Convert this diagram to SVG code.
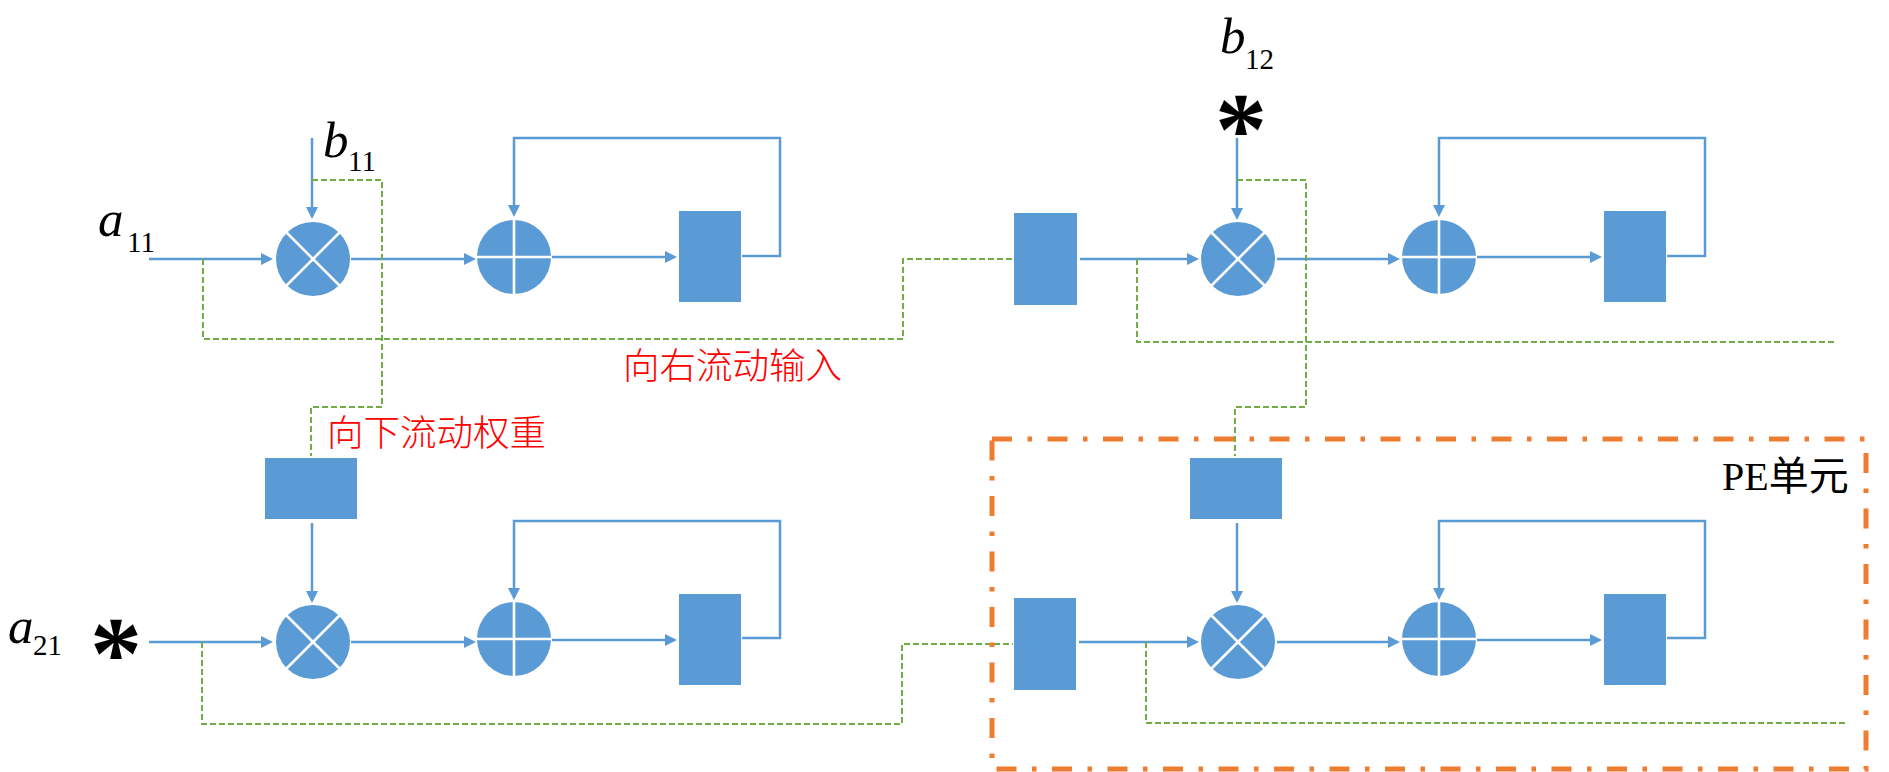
<svg xmlns="http://www.w3.org/2000/svg" width="1889" height="772" viewBox="0 0 1889 772">
<style>
.bg{fill:#ffffff}
.reg{fill:#5B9BD5}
.op{fill:#5B9BD5}
.wl{stroke:#ffffff;stroke-width:2.6;fill:none}
.bl{stroke:#5B9BD5;stroke-width:2.5;fill:none}
.gr{stroke:#70AD47;stroke-width:2;fill:none;stroke-dasharray:6 3}
.pe{stroke:#ED7D31;stroke-width:5;fill:none;stroke-dasharray:20 15.5 4.5 15.5}
.var{font-family:"Liberation Serif",serif;font-style:italic;font-size:51px;fill:#000}
.sub{font-family:"Liberation Serif",serif;font-style:normal;font-size:29px;fill:#000}
.ast{font-family:"Liberation Serif",serif;font-weight:bold;font-size:104px;fill:#000}
.lbl{font-family:"Noto Sans CJK SC",sans-serif;font-weight:300;font-size:36.5px;fill:#FF0000}
.pet{font-family:"Liberation Serif","Noto Sans CJK SC",serif;font-size:40px;fill:#000}
</style>
<defs>
<marker id="ah" markerUnits="userSpaceOnUse" markerWidth="12" markerHeight="12" refX="2" refY="6" orient="auto">
<path d="M0,0 L12,6 L0,12 z" fill="#5B9BD5"/>
</marker>
<g id="mul"><circle r="37" class="op"/><path class="wl" d="M-27,-27 L27,27 M27,-27 L-27,27"/></g>
<g id="add"><circle r="37" class="op"/><path class="wl" d="M-38,0 L38,0 M0,-38 L0,38"/></g>
</defs>
<rect class="bg" x="0" y="0" width="1889" height="772"/>

<g id="connectors">
<!-- blue data connectors -->
<path class="bl" marker-end="url(#ah)" d="M149,259 L263,259"/>
<path class="bl" marker-end="url(#ah)" d="M312,138 L312,209"/>
<path class="bl" marker-end="url(#ah)" d="M351,259 L466,259"/>
<path class="bl" marker-end="url(#ah)" d="M552,257 L667,257"/>
<path class="bl" marker-end="url(#ah)" d="M742,256 L780,256 L780,138 L514,138 L514,207"/>
<path class="bl" marker-end="url(#ah)" d="M1080,259 L1189,259"/>
<path class="bl" marker-end="url(#ah)" d="M1237,138 L1237,210"/>
<path class="bl" marker-end="url(#ah)" d="M1277,259 L1390,259"/>
<path class="bl" marker-end="url(#ah)" d="M1477,257 L1592,257"/>
<path class="bl" marker-end="url(#ah)" d="M1667,256 L1705,256 L1705,138 L1439,138 L1439,207"/>
<path class="bl" marker-end="url(#ah)" d="M149,642 L263,642"/>
<path class="bl" marker-end="url(#ah)" d="M312,523 L312,593"/>
<path class="bl" marker-end="url(#ah)" d="M351,642 L466,642"/>
<path class="bl" marker-end="url(#ah)" d="M552,640 L667,640"/>
<path class="bl" marker-end="url(#ah)" d="M742,638 L780,638 L780,521 L514,521 L514,590"/>
<path class="bl" marker-end="url(#ah)" d="M1079,642 L1189,642"/>
<path class="bl" marker-end="url(#ah)" d="M1237,523 L1237,593"/>
<path class="bl" marker-end="url(#ah)" d="M1277,642 L1390,642"/>
<path class="bl" marker-end="url(#ah)" d="M1477,640 L1592,640"/>
<path class="bl" marker-end="url(#ah)" d="M1667,638 L1705,638 L1705,521 L1439,521 L1439,590"/>
<!-- green dashed flows -->
<path class="gr" d="M203,259 L203,339 L903,339 L903,259 L1013,259"/>
<path class="gr" d="M312,180 L382,180 L382,407 L311,407 L311,456"/>
<path class="gr" d="M1137,259 L1137,342 L1835,342"/>
<path class="gr" d="M1237,180 L1306,180 L1306,407 L1235,407 L1235,456"/>
<path class="gr" d="M202,642 L202,724 L902,724 L902,644 L1013,644"/>
<path class="gr" d="M1146,642 L1146,723 L1845,723"/>
</g>

<g id="pe-box"><rect class="pe" x="992" y="439" width="874" height="330"/></g>

<g id="M11"><use href="#mul" x="313" y="259"/></g>
<g id="A11"><use href="#add" x="514" y="257"/></g>
<g id="R11"><rect class="reg" x="679" y="211" width="62" height="91"/></g>

<g id="IR12"><rect class="reg" x="1014" y="213" width="63" height="92"/></g>
<g id="M12"><use href="#mul" x="1238" y="259"/></g>
<g id="A12"><use href="#add" x="1439" y="257"/></g>
<g id="R12"><rect class="reg" x="1604" y="211" width="62" height="91"/></g>

<g id="W21"><rect class="reg" x="265" y="458" width="92" height="61"/></g>
<g id="M21"><use href="#mul" x="313" y="642"/></g>
<g id="A21"><use href="#add" x="514" y="639"/></g>
<g id="R21"><rect class="reg" x="679" y="594" width="62" height="91"/></g>

<g id="W22"><rect class="reg" x="1190" y="458" width="92" height="61"/></g>
<g id="IR22"><rect class="reg" x="1014" y="598" width="62" height="92"/></g>
<g id="M22"><use href="#mul" x="1238" y="642"/></g>
<g id="A22"><use href="#add" x="1439" y="639"/></g>
<g id="R22"><rect class="reg" x="1604" y="594" width="62" height="91"/></g>

<g id="labels">
<text class="var" x="98" y="236">a</text><text class="sub" x="127" y="252">11</text>
<text class="var" x="323" y="157">b</text><text class="sub" x="348" y="171">11</text>
<text class="var" x="1220" y="53">b</text><text class="sub" x="1245" y="69">12</text>
<text class="var" x="8" y="643">a</text><text class="sub" x="33" y="655">21</text>
<text class="ast" x="1241" y="164" text-anchor="middle">*</text>
<text class="ast" x="116" y="688" text-anchor="middle">*</text>
<text class="lbl" x="623" y="379">向右流动输入</text>
<text class="lbl" x="327" y="446">向下流动权重</text>
<text class="pet" x="1722" y="490">PE单元</text>
</g>
</svg>
